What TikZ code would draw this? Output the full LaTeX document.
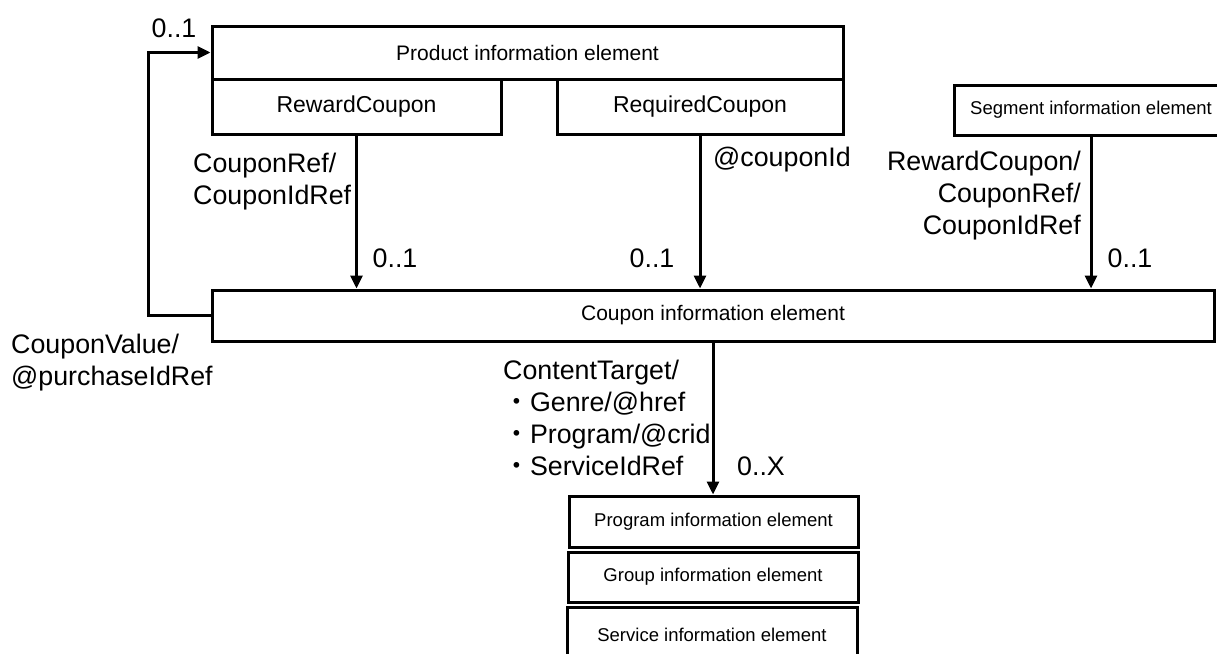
\documentclass[tikz,border=0pt]{standalone}
\usepackage{fontspec}
\setmainfont{Liberation Sans}
\newfontfamily\cjk{Noto Sans CJK JP}
\usetikzlibrary{arrows.meta,
                positioning
            }

\tikzset{
    box/.style={draw, line width=3pt, inner sep=0pt, font=\fontsize{21}{25}\selectfont},
    subbox/.style={box, font=\fontsize{23}{27}\selectfont},
    smallbox/.style={box, font=\fontsize{18.5}{22}\selectfont},
    lbl/.style={inner sep=0pt, font=\fontsize{26.8}{32}\selectfont},
    arr/.style={line width=3pt, -{Triangle[length=13pt, width=12pt]}}
}

\begin{document}
\begin{tikzpicture}[x=1pt, y=1pt]
            \useasboundingbox (0, 0) rectangle (1217, -653);
            \node[box, minimum width=631, minimum height=53] (prod) at (527.5, -52.5) {Product information element};
            \node[subbox, minimum width=289, minimum height=55] (reward) at (356.5, -106.5) {RewardCoupon};
            \node[subbox, minimum width=286, minimum height=55] (required) at (700, -106.5) {RequiredCoupon};
            \node[smallbox, minimum width=274, minimum height=50] (segment) at (1091, -110) {Segment information element};
            \node[box, minimum width=1002, minimum height=51] (coupon) at (713, -315.5) {Coupon information element};
            \node[smallbox, minimum width=289, minimum height=51] (program) at (713.5, -521.5) {Program information element};
            \node[smallbox, minimum width=290, minimum height=50] (group) at (713, -577) {Group information element};
            \node[smallbox, minimum width=290, minimum height=56] (service) at (712, -635) {Service information element};
            \draw[arr] (reward) -- (reward |- coupon.north);
            \draw[arr] (required) -- (required |- coupon.north);
            \draw[arr] (segment) -- (segment |- coupon.north);
            \draw[arr] (coupon.south) -- (coupon.south |- program.north);
            \draw[arr] (coupon.west) -- ++(-62, 0) |- (prod.west);
            \node[lbl] (loopmult) at (174, -28) {0..1};
            \node[lbl, align=left, anchor=north west] (rewardref) at (193, -153) {CouponRef/\\CouponIdRef};
            \node[lbl] (rewardmult) at (395, -258) {0..1};
            \node[lbl, anchor=west] (requiredref) at (713, -160) {@couponId};
            \node[lbl] (requiredmult) at (652, -258) {0..1};
            \node[lbl, align=right, anchor=north east] (segmentref) at (1081, -151) {RewardCoupon/\\CouponRef/\\CouponIdRef};
            \node[lbl] (segmentmult) at (1130, -258) {0..1};
            \node[lbl, align=left, anchor=north west] (valueref) at (11, -334) {CouponValue/\\@purchaseIdRef};
            \node[lbl, align=left, anchor=north west] (targetref) at (503, -360) {ContentTarget/\\{\cjk ・}Genre/@href\\{\cjk ・}Program/@crid\\{\cjk ・}ServiceIdRef};
            \node[lbl] (targetmult) at (761, -466) {0..X};
        \end{tikzpicture}
\end{document}
